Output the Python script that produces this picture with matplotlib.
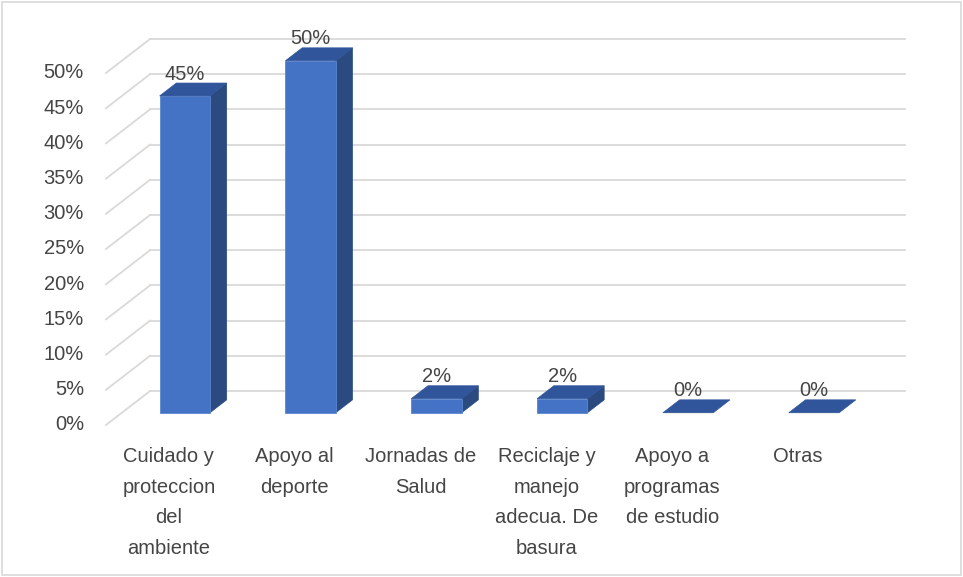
import matplotlib.pyplot as plt
from matplotlib.patches import Polygon, Rectangle

# survey results (percent)
categories = [
    "Cuidado y\nproteccion\ndel\nambiente",
    "Apoyo al\ndeporte",
    "Jornadas de\nSalud",
    "Reciclaje y\nmanejo\nadecua. De\nbasura",
    "Apoyo a\nprogramas\nde estudio",
    "Otras",
]
values = [45, 50, 2, 2, 0, 0]
ticks = [0, 5, 10, 15, 20, 25, 30, 35, 40, 45, 50]

plt.rcParams['font.family'] = ['Liberation Sans', 'DejaVu Sans']

FRONT = '#4472C4'
SIDE = '#2B4A80'
TOP = '#30559A'
GRID = '#D9D9D9'
TEXT = '#454545'

# fake 3d: back wall is shifted by (DX categories, DY percent)
DX, DY = 0.35, 4.83
F1, F2 = 0.36, 0.74      # bar depth, as fraction of the full depth
W = 0.40                 # bar width in category units

fig = plt.figure(figsize=(9.63, 5.77), dpi=100)
ax = fig.add_axes([0, 0, 1, 1])
ax.set_xlim(-106 / 125.83, (963 - 106) / 125.83)
ax.set_ylim(-(577 - 425) / 7.04, 425 / 7.04)
ax.axis('off')

n = len(categories)

# gridlines: diagonal on the left wall, horizontal on the back wall
for t in ticks:
    ax.plot([0, DX], [t, t + DY], color=GRID, lw=1.3, zorder=1)
    ax.plot([DX, n + DX], [t + DY, t + DY], color=GRID, lw=1.3, zorder=1)
    ax.annotate(f"{t}%", (0, t), textcoords='offset pixels', xytext=(-22, 0),
                ha='right', va='center', fontsize=14.5, color=TEXT)

for k, (lab, v) in enumerate(zip(categories, values)):
    c = k + 0.5
    xl, xr = c - W / 2, c + W / 2
    ox1, oy1 = F1 * DX, F1 * DY
    ox2, oy2 = F2 * DX, F2 * DY
    if v > 0:
        # right side face
        ax.add_patch(Polygon([(xr + ox1, oy1), (xr + ox2, oy2),
                              (xr + ox2, v + oy2), (xr + ox1, v + oy1)],
                             closed=True, fc=SIDE, ec=SIDE, lw=0.5, zorder=3))
        # front face
        ax.add_patch(Rectangle((xl + ox1, oy1), W, v, fc=FRONT, ec='#5B86D0',
                               lw=0.6, zorder=4))
    # top face
    ax.add_patch(Polygon([(xl + ox1, v + oy1), (xr + ox1, v + oy1),
                          (xr + ox2, v + oy2), (xl + ox2, v + oy2)],
                         closed=True, fc=TOP, ec=TOP, lw=0.5, zorder=4))
    # value label
    ax.annotate(f"{v}%", (c + ox1, v + oy2), textcoords='offset pixels',
                xytext=(0, 9), ha='center', va='center', fontsize=14.5,
                color=TEXT, zorder=5)
    # category label
    ax.annotate(lab, (c, 0), textcoords='offset pixels', xytext=(0, -22),
                ha='center', va='top', fontsize=14.5, color=TEXT,
                linespacing=1.78)

# chart border
fig.add_artist(Rectangle((0.002, 0.003), 0.996, 0.994, transform=fig.transFigure,
                         fill=False, ec=GRID, lw=1.2))

fig.savefig('out.png', dpi=100)
